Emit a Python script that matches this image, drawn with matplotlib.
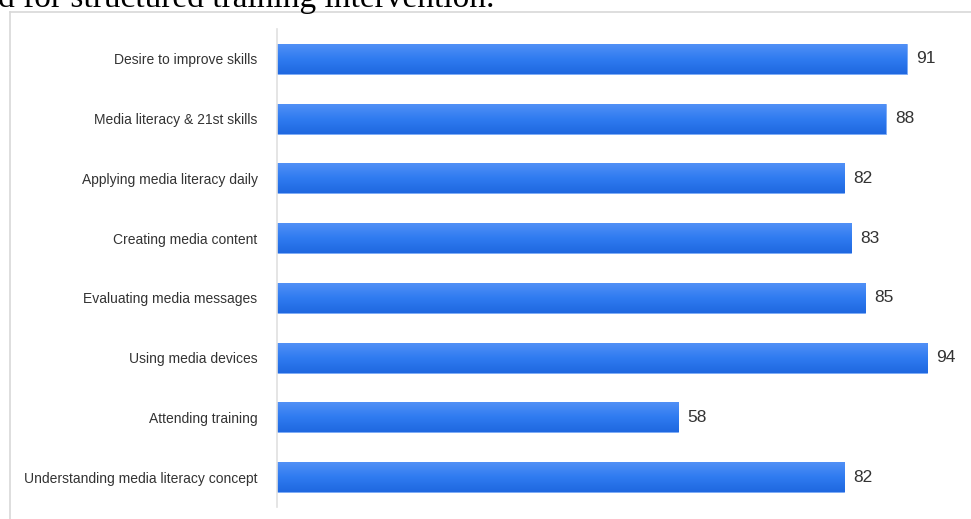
import matplotlib
matplotlib.use("Agg")
import matplotlib.pyplot as plt
import numpy as np
from matplotlib import font_manager

categories = [
    "Desire to improve skills",
    "Media literacy & 21st skills",
    "Applying media literacy daily",
    "Creating media content",
    "Evaluating media messages",
    "Using media devices",
    "Attending training",
    "Understanding media literacy concept",
]
values = [91, 88, 82, 83, 85, 94, 58, 82]
caption = "d for structured training intervention."

W, H = 971, 519
fig = plt.figure(figsize=(W / 100, H / 100), dpi=100)

def fx(px):
    return px / W

def fy(py):
    return 1 - py / H

available = {f.name for f in font_manager.fontManager.ttflist}
label_font = "Liberation Sans Narrow" if "Liberation Sans Narrow" in available else "Liberation Sans"

# caption line from the surrounding document, cut at the top edge
fig.text(fx(-2), fy(7.5), caption, family="Liberation Serif", fontsize=24,
         va="baseline", ha="left", color="black")

# light frame around the chart
frame = fig.add_axes([fx(9.5), fy(530), fx(1000) - fx(9.5), fy(11.5) - fy(530)])
frame.set_xticks([]); frame.set_yticks([])
frame.patch.set_alpha(0)
for s in frame.spines.values():
    s.set_color("#d8d8d8"); s.set_linewidth(1.2)

left, right, top, bottom = 277, 971, 29, 507
ax = fig.add_axes([fx(left), fy(bottom), fx(right) - fx(left), fy(top) - fy(bottom)])
xmax = (right - left) / 6.92
ax.set_xlim(0, xmax)
n = len(categories)
ax.set_ylim(n - 0.5, -0.5)

y = np.arange(n)
bars = ax.barh(y, values, height=0.5, color="#3a80f2", edgecolor="#7aa9f5", linewidth=0.6, zorder=2)

# vertical gradient inside each bar
grad = np.linspace(0, 1, 64).reshape(-1, 1)
cmap = matplotlib.colors.LinearSegmentedColormap.from_list("bar", ["#5190f6", "#2f7bf0", "#1f68e0"])
for b in bars:
    x0, y0 = b.get_x(), b.get_y()
    w, h = b.get_width(), b.get_height()
    im = ax.imshow(grad, cmap=cmap, aspect="auto", extent=[x0, x0 + w, y0 + h, y0],
                   zorder=2.5, interpolation="bilinear")
    im.set_clip_path(b)

for yi, v in zip(y, values):
    ax.text(v + 1.3, yi, str(v), va="center", ha="left", fontsize=12.5,
            family="Liberation Sans", color="#333333")

ax.set_yticks(y)
ax.set_yticklabels(categories, family=label_font, fontsize=10, color="#333333")
ax.tick_params(axis="y", length=0, pad=14)
ax.set_xticks([])
for s in ["top", "right", "bottom"]:
    ax.spines[s].set_visible(False)
ax.spines["left"].set_color("#e0e0e0")
ax.spines["left"].set_linewidth(1.2)
ax.patch.set_alpha(0)

fig.savefig("out.png", dpi=100)
